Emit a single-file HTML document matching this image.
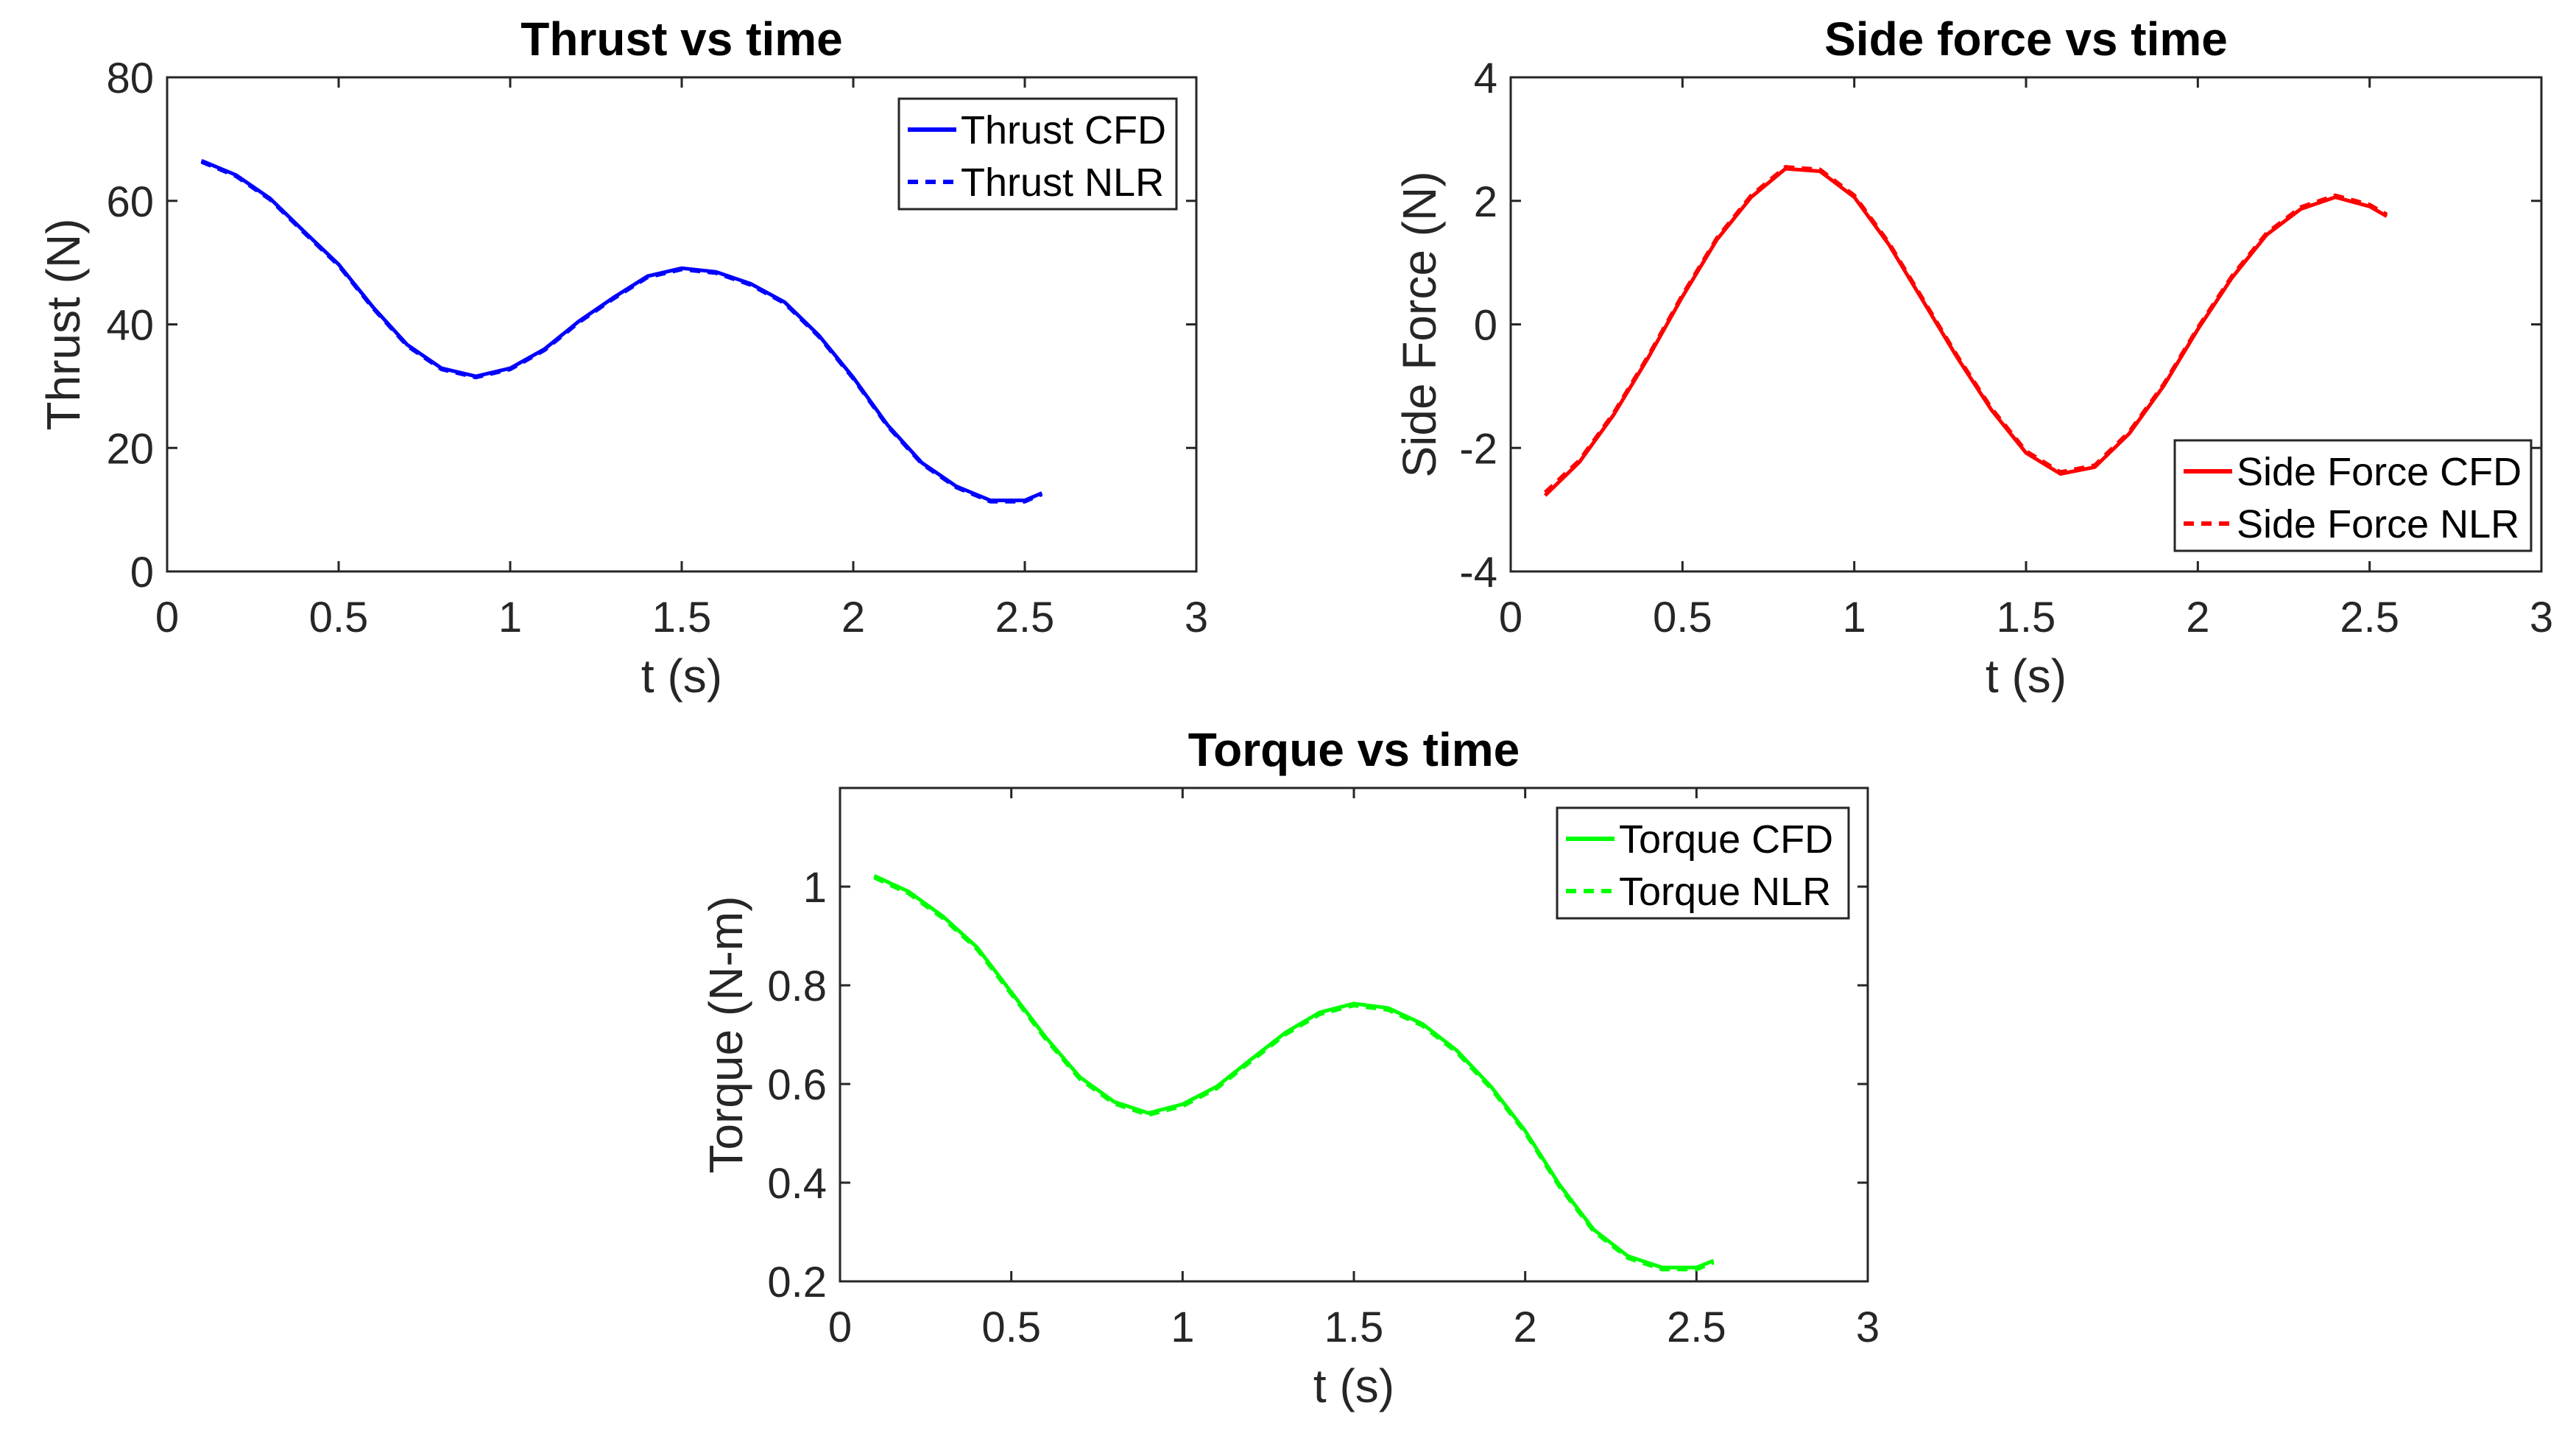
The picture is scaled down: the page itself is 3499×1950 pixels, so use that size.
<!DOCTYPE html>
<html><head><meta charset="utf-8"><style>
html,body{margin:0;padding:0;background:#fff;}
svg{display:block;font-family:"Liberation Sans",Arial,sans-serif;}
</style></head><body>
<svg id="fig" width="3499" height="1950" viewBox="0 0 3499 1950" xmlns="http://www.w3.org/2000/svg"></svg>
<script>
const timeS = [0.1,0.2,0.3,0.4,0.5,0.6,0.7,0.8,0.9,1.0,1.1,1.2,1.3,1.4,1.5,1.6,1.7,1.8,1.9,2.0,2.1,2.2,2.3,2.4,2.5,2.55];
const thrustCFD = [66.5,64.2,60.4,55,49.7,42.8,36.7,32.9,31.6,32.9,36,40.5,44.3,47.8,49.1,48.5,46.6,43.6,38.2,31.4,23.7,17.6,13.8,11.5,11.5,12.7];
const thrustNLR = [66.3,64.0,60.2,54.8,49.5,42.6,36.5,32.7,31.4,32.7,35.8,40.3,44.1,47.6,48.9,48.3,46.4,43.4,38.0,31.2,23.5,17.4,13.6,11.3,11.3,12.5];
const sideCFD = [-2.77,-2.23,-1.46,-0.54,0.45,1.37,2.06,2.52,2.48,2.06,1.3,0.38,-0.54,-1.39,-2.08,-2.42,-2.31,-1.77,-1.0,-0.08,0.76,1.45,1.87,2.06,1.91,1.75];
const sideNLR = [-2.72,-2.2,-1.43,-0.51,0.48,1.4,2.09,2.55,2.51,2.09,1.33,0.41,-0.51,-1.36,-2.05,-2.39,-2.28,-1.74,-0.97,-0.05,0.79,1.48,1.9,2.09,1.94,1.78];
const torqueCFD = [1.022,0.99,0.94,0.877,0.786,0.695,0.614,0.564,0.541,0.559,0.595,0.65,0.704,0.745,0.763,0.754,0.722,0.668,0.595,0.505,0.396,0.305,0.251,0.228,0.228,0.242];
const torqueNLR = [1.018,0.986,0.936,0.873,0.782,0.691,0.61,0.56,0.537,0.555,0.591,0.646,0.7,0.741,0.759,0.75,0.718,0.664,0.591,0.501,0.392,0.301,0.247,0.224,0.224,0.238];
const xTicks = [0,0.5,1,1.5,2,2.5,3];
const xTickLabels = ["0","0.5","1","1.5","2","2.5","3"];
const thrustTicks = [0,20,40,60,80];
const sideTicks = [-4,-2,0,2,4];
const torqueTicks = [0.2,0.4,0.6,0.8,1];

const NS="http://www.w3.org/2000/svg";
const svg=document.getElementById('fig');
function mk(tag,attrs,parent,text){const e=document.createElementNS(NS,tag);for(const k in attrs)e.setAttribute(k,attrs[k]);if(text!==undefined)e.textContent=text;(parent||svg).appendChild(e);return e;}

function panel(o){
  const g=mk('g',{});
  
  
  const xs=v=>o.L+(v-0)/(3-0)*(o.R-o.L);
  const ys=v=>o.B-(v-o.ymin)/(o.ymax-o.ymin)*(o.B-o.T);
  const ax=mk('rect',{x:o.L,y:o.T,width:o.R-o.L,height:o.B-o.T,fill:'none',stroke:'#262626','stroke-width':3},g);
  
  
  const tl=14;
  xTicks.forEach((v,i)=>{
    const x=xs(v);
    mk('line',{x1:x,y1:o.B,x2:x,y2:o.B-tl,stroke:'#262626','stroke-width':3},g);
    mk('line',{x1:x,y1:o.T,x2:x,y2:o.T+tl,stroke:'#262626','stroke-width':3},g);
    const t=mk('text',{x:x,y:o.B+82,'text-anchor':'middle','font-size':58,fill:'#262626'},g,xTickLabels[i]);
    
    
  });
  o.yticks.forEach(v=>{
    const y=ys(v);
    mk('line',{x1:o.L,y1:y,x2:o.L+tl,y2:y,stroke:'#262626','stroke-width':3},g);
    mk('line',{x1:o.R,y1:y,x2:o.R-tl,y2:y,stroke:'#262626','stroke-width':3},g);
    const t=mk('text',{x:o.L-18,y:y+21,'text-anchor':'end','font-size':58,fill:'#262626'},g,String(v));
    
    
  });
  const ttl=mk('text',{x:(o.L+o.R)/2,y:o.T-30,'text-anchor':'middle','font-size':64,'font-weight':'bold',fill:'#000'},g,o.title);
  
  
  const xl=mk('text',{x:(o.L+o.R)/2,y:o.B+164,'text-anchor':'middle','font-size':64,fill:'#262626'},g,'t (s)');
  
  
  const yl=mk('text',{x:0,y:0,'text-anchor':'middle','font-size':64,fill:'#262626',transform:`translate(${o.ylx},${(o.T+o.B)/2}) rotate(-90)`},g,o.ylabel);
  
  
  const pts=arr=>arr.map((v,i)=>xs(timeS[i]).toFixed(1)+','+ys(v).toFixed(1)).join(' ');
  const l1=mk('polyline',{points:pts(o.cfd),fill:'none',stroke:o.color,'stroke-width':5,'stroke-linejoin':'round'},g);
  
  
  const l2=mk('polyline',{points:pts(o.nlr),fill:'none',stroke:o.color,'stroke-width':5,'stroke-dasharray':'14 10'},g);
  
  
  const lg=mk('g',{},g);
  
  
  mk('rect',{x:o.lx,y:o.ly,width:o.lw,height:150,fill:'#fff',stroke:'#262626','stroke-width':3},lg);
  mk('line',{x1:o.lx+12,y1:o.ly+42,x2:o.lx+78,y2:o.ly+42,stroke:o.color,'stroke-width':6},lg);
  mk('line',{x1:o.lx+12,y1:o.ly+113,x2:o.lx+78,y2:o.ly+113,stroke:o.color,'stroke-width':6,'stroke-dasharray':'14 10'},lg);
  const e1=mk('text',{x:o.lx+84,y:o.ly+61,'font-size':54,fill:'#000'},lg,o.leg[0]);
  
  
  const e2=mk('text',{x:o.lx+84,y:o.ly+132,'font-size':54,fill:'#000'},lg,o.leg[1]);
  
  
}
panel({name:'thrust-chart',L:227,R:1625,T:105,B:776,ymin:0,ymax:80,yticks:thrustTicks,title:'Thrust vs time',ylabel:'Thrust (N)',ylx:108,color:'#0000ff',cfd:thrustCFD,nlr:thrustNLR,lx:1221,ly:134,lw:377,leg:['Thrust CFD','Thrust NLR']});
panel({name:'side-force-chart',L:2052,R:3452,T:105,B:776,ymin:-4,ymax:4,yticks:sideTicks,title:'Side force vs time',ylabel:'Side Force (N)',ylx:1950,color:'#ff0000',cfd:sideCFD,nlr:sideNLR,lx:2954,ly:598,lw:484,leg:['Side Force CFD','Side Force NLR']});
panel({name:'torque-chart',L:1141,R:2537,T:1070,B:1740,ymin:0.2,ymax:1.2,yticks:torqueTicks,title:'Torque vs time',ylabel:'Torque (N-m)',ylx:1008,color:'#00ff00',cfd:torqueCFD,nlr:torqueNLR,lx:2115,ly:1097,lw:396,leg:['Torque CFD','Torque NLR']});
</script>
</body></html>
